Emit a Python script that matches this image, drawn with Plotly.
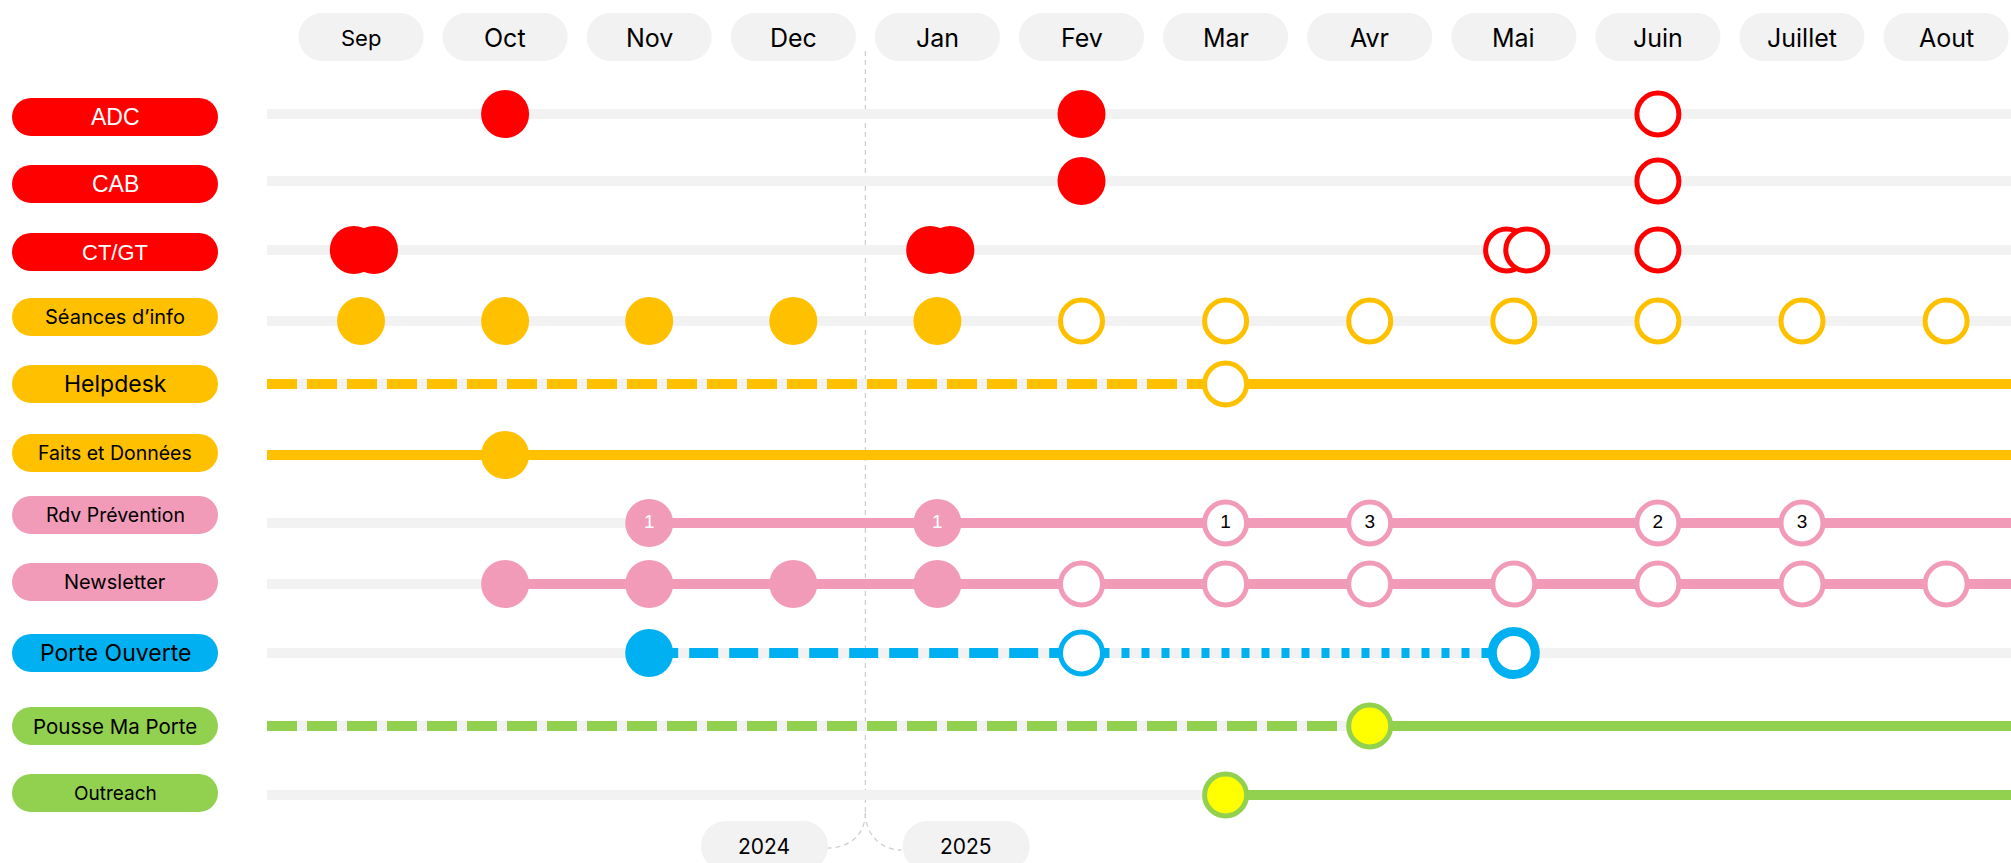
import plotly.graph_objects as go

# ---------------- data ----------------
months = ["Sep", "Oct", "Nov", "Dec", "Jan", "Fev", "Mar", "Avr", "Mai", "Juin", "Juillet", "Aout"]
years = ["2024", "2025"]
rows = ["ADC", "CAB", "CT/GT", "Séances d’info", "Helpdesk", "Faits et Données",
        "Rdv Prévention", "Newsletter", "Porte Ouverte", "Pousse Ma Porte", "Outreach"]

adc_done = ["Oct", "Fev"]
adc_planned = ["Juin"]
cab_done = ["Fev"]
cab_planned = ["Juin"]
ctgt_done = ["Sep", "Sep", "Jan", "Jan"]
ctgt_planned = ["Mai", "Mai", "Juin"]
seances_done = ["Sep", "Oct", "Nov", "Dec", "Jan"]
seances_planned = ["Fev", "Mar", "Avr", "Mai", "Juin", "Juillet", "Aout"]
helpdesk_planned = ["Mar"]
faits_done = ["Oct"]
rdv_done = ["Nov", "Jan"]
rdv_done_counts = [1, 1]
rdv_planned = ["Mar", "Avr", "Juin", "Juillet"]
rdv_planned_counts = [1, 3, 2, 3]
news_done = ["Oct", "Nov", "Dec", "Jan"]
news_planned = ["Fev", "Mar", "Avr", "Mai", "Juin", "Juillet", "Aout"]
porte_done = ["Nov"]
porte_planned = ["Fev"]
porte_key = ["Mai"]
pousse_start = ["Avr"]
outreach_start = ["Mar"]

# line segments: (from, to, style)
helpdesk_segments = [("start", "Mar", "dash"), ("Mar", "end", "solid")]
faits_segments = [("start", "end", "solid")]
rdv_segments = [("Nov", "end", "solid")]
news_segments = [("Oct", "end", "solid")]
porte_segments = [("Nov", "Fev", "dash"), ("Fev", "Mai", "dot")]
pousse_segments = [("start", "Avr", "dash"), ("Avr", "end", "solid")]
outreach_segments = [("Mar", "end", "solid")]

# ---------------- styles / layout ----------------
W, H = 2011, 863
X0_PX, DX_PX = 361.0, 144.1     # pixel of first month, pixels per month
ROW_PX = [114, 181, 250, 321, 384, 455, 523, 584, 653, 726, 795]     # vertical layout of rows
LABEL_PX = [117, 184, 252, 317, 384, 453, 515, 582, 653, 726, 793]   # vertical layout of row labels


def px_to_x(p):
    return (p - X0_PX) / DX_PX


RED, ORANGE, PINK, BLUE, GREEN, YELLOW = "#FF0000", "#FFC000", "#F19BB8", "#00B0F0", "#92D050", "#FFFF00"
TRACK = "#F2F2F2"
row_color = {"ADC": RED, "CAB": RED, "CT/GT": RED, "Séances d’info": ORANGE, "Helpdesk": ORANGE,
             "Faits et Données": ORANGE, "Rdv Prévention": PINK, "Newsletter": PINK,
             "Porte Ouverte": BLUE, "Pousse Ma Porte": GREEN, "Outreach": GREEN}
SANS = "Inter, Open Sans, sans-serif"
ARIAL = "Liberation Sans, Arial, sans-serif"
label_font = {"ADC": (ARIAL, 23, "white"),
              "CAB": (ARIAL, 23, "white"),
              "CT/GT": (ARIAL, 22, "white"),
              "Séances d’info": (SANS, 20, "black"),
              "Helpdesk": (SANS, 23, "black"),
              "Faits et Données": (SANS, 19.5, "black"),
              "Rdv Prévention": (SANS, 19.5, "black"),
              "Newsletter": (SANS, 20, "black"),
              "Porte Ouverte": (SANS, 23, "black"),
              "Pousse Ma Porte": (SANS, 20.5, "black"),
              "Outreach": (SANS, 19, "black")}
month_font_size = {"Sep": 22}
dash_style = {"solid": "solid", "dash": "30px,10px", "dot": "8px,12px"}
porte_dash = "29px,11px"

TRACK_START = px_to_x(267)
TRACK_END = px_to_x(W + 40)
LINE_W = 10
MS_FILLED = 48
MS_OPEN = 42
BORDER = 5

mi = {m: i for i, m in enumerate(months)}
ri = {r: ROW_PX[i] for i, r in enumerate(rows)}


def pos(m):
    if m == "start":
        return TRACK_START
    if m == "end":
        return TRACK_END
    return mi[m]


def spread(mlist):
    """x positions; repeated months are drawn as overlapping pairs"""
    xs, seen = [], {}
    offs = [-0.05, 0.09]
    for m in mlist:
        k = seen.get(m, 0)
        seen[m] = k + 1
        xs.append(mi[m] + (offs[k] if mlist.count(m) > 1 else 0))
    return xs


fig = go.Figure()

# gray tracks
tx, ty = [], []
for r in rows:
    tx += [TRACK_START, TRACK_END, None]
    ty += [ri[r], ri[r], None]
fig.add_trace(go.Scatter(x=tx, y=ty, mode="lines", line=dict(color=TRACK, width=LINE_W), hoverinfo="skip"))

# colored segments
seg_rows = [("Helpdesk", helpdesk_segments), ("Faits et Données", faits_segments),
            ("Rdv Prévention", rdv_segments), ("Newsletter", news_segments),
            ("Porte Ouverte", porte_segments), ("Pousse Ma Porte", pousse_segments),
            ("Outreach", outreach_segments)]
for r, segs in seg_rows:
    for a, b, st in segs:
        d = dash_style[st]
        if r == "Porte Ouverte" and st == "dash":
            d = porte_dash
        fig.add_trace(go.Scatter(x=[pos(a), pos(b)], y=[ri[r], ri[r]], mode="lines",
                                 line=dict(color=row_color[r], width=LINE_W, dash=d), hoverinfo="skip"))


def add_points(r, mlist, kind, texts=None):
    c = row_color[r]
    xs = spread(mlist)
    ys = [ri[r]] * len(mlist)
    if kind == "done":
        mk = dict(size=MS_FILLED, color=c, line=dict(width=0))
        tc = "white"
    elif kind == "planned":
        mk = dict(size=MS_OPEN, color="white", line=dict(width=BORDER, color=c))
        tc = "black"
    elif kind == "key":
        mk = dict(size=MS_OPEN + 1, color="white", line=dict(width=9, color=c))
        tc = "black"
    else:  # start (yellow)
        mk = dict(size=MS_OPEN, color=YELLOW, line=dict(width=BORDER, color=c))
        tc = "black"
    for i, (x, y) in enumerate(zip(xs, ys)):
        fig.add_trace(go.Scatter(
            x=[x], y=[y], mode="markers+text" if texts else "markers", marker=mk,
            text=[str(texts[i])] if texts else None, textposition="middle center",
            textfont=dict(family=ARIAL, size=19, color=tc), hoverinfo="skip"))


add_points("ADC", adc_done, "done")
add_points("ADC", adc_planned, "planned")
add_points("CAB", cab_done, "done")
add_points("CAB", cab_planned, "planned")
add_points("CT/GT", ctgt_done, "done")
add_points("CT/GT", ctgt_planned, "planned")
add_points("Séances d’info", seances_done, "done")
add_points("Séances d’info", seances_planned, "planned")
add_points("Helpdesk", helpdesk_planned, "planned")
add_points("Faits et Données", faits_done, "done")
add_points("Rdv Prévention", rdv_done, "done", rdv_done_counts)
add_points("Rdv Prévention", rdv_planned, "planned", rdv_planned_counts)
add_points("Newsletter", news_done, "done")
add_points("Newsletter", news_planned, "planned")
add_points("Porte Ouverte", porte_done, "done")
add_points("Porte Ouverte", porte_planned, "planned")
add_points("Porte Ouverte", porte_key, "key")
add_points("Pousse Ma Porte", pousse_start, "start")
add_points("Outreach", outreach_start, "start")


# ---------------- pills ----------------
def pill_path(w, h):
    hw, hh = w / 2, h / 2
    r = hh
    c = 0.5523 * r
    return (f"M {hw - r},{-hh} C {hw - r + c},{-hh} {hw},{-c} {hw},0 "
            f"C {hw},{c} {hw - r + c},{hh} {hw - r},{hh} "
            f"L {-hw + r},{hh} "
            f"C {-hw + r - c},{hh} {-hw},{c} {-hw},0 "
            f"C {-hw},{-c} {-hw + r - c},{-hh} {-hw + r},{-hh} Z")


def pill(xc, yc, w, h, color):
    return dict(type="path", xref="x", yref="y", xsizemode="pixel", ysizemode="pixel",
                xanchor=xc, yanchor=yc, path=pill_path(w, h),
                fillcolor=color, line=dict(width=0), layer="below")


shapes, annotations = [], []
HEADER_Y = 37
for m in months:
    shapes.append(pill(mi[m], HEADER_Y, 125, 48, TRACK))
    annotations.append(dict(x=mi[m], y=HEADER_Y + 1, xref="x", yref="y", text=m, showarrow=False,
                            font=dict(family=SANS, size=month_font_size.get(m, 25), color="black")))

LABEL_X = px_to_x(115)
for i, r in enumerate(rows):
    fam, sz, col = label_font[r]
    shapes.append(pill(LABEL_X, LABEL_PX[i], 206, 38, row_color[r]))
    annotations.append(dict(x=LABEL_X, y=LABEL_PX[i], xref="x", yref="y", text=r, showarrow=False,
                            font=dict(family=fam, size=sz, color=col)))

# year divider
BOUND = mi["Jan"] - 0.5
Y_TOP, Y_BOT = 51, 813
DIV = dict(color="#D0D0D0", width=1.3, dash="5px,4px")
shapes.append(dict(type="line", xref="x", yref="y", x0=BOUND, x1=BOUND, y0=Y_TOP, y1=Y_BOT,
                   line=DIV, layer="below"))
shapes.append(dict(type="path", xref="x", yref="y", xsizemode="pixel", ysizemode="pixel",
                   xanchor=BOUND, yanchor=Y_BOT, path="M 0,0 C 0,-22 -16,-35 -38,-35",
                   line=DIV, layer="below"))
shapes.append(dict(type="path", xref="x", yref="y", xsizemode="pixel", ysizemode="pixel",
                   xanchor=BOUND, yanchor=Y_BOT, path="M 0,0 C 0,-22 16,-37 36,-37",
                   line=DIV, layer="below"))
YEAR_Y = 846
for k, yv in enumerate(years):
    xc = BOUND + (-0.7 if k == 0 else 0.7)
    shapes.append(pill(xc, YEAR_Y, 127, 50, TRACK))
    annotations.append(dict(x=xc, y=YEAR_Y, xref="x", yref="y", text=yv, showarrow=False,
                            font=dict(family=SANS, size=21, color="black")))

fig.update_layout(
    width=W, height=H, margin=dict(l=0, r=0, t=0, b=0),
    paper_bgcolor="white", plot_bgcolor="white", showlegend=False, hovermode=False,
    xaxis=dict(range=[px_to_x(0), px_to_x(W)], visible=False, fixedrange=True),
    yaxis=dict(range=[H, 0], visible=False, fixedrange=True),
    shapes=shapes, annotations=annotations,
)

fig.write_html("out.html", config={"displayModeBar": False},
               post_script="document.body.style.margin='0';document.body.style.overflow='hidden';")
